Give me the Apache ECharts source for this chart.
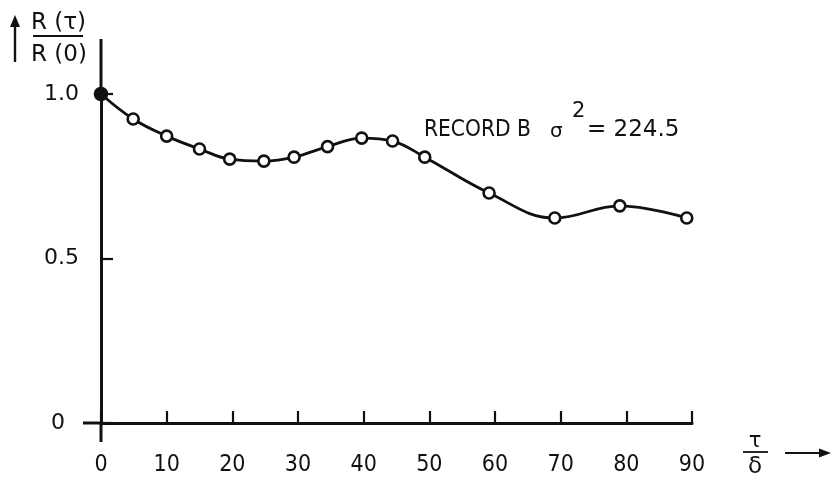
<!DOCTYPE html>
<html>
<head>
<meta charset="utf-8">
<title>R(τ)/R(0) — Record B</title>
<script src="https://cdn.jsdelivr.net/npm/echarts@6/dist/echarts.min.js"></script>
<style>
  html, body { margin: 0; padding: 0; background: #fff; }
  #chart { width: 832px; height: 480px; }
</style>
</head>
<body>
<div id="chart"></div>
<script>
// Normalised autocorrelation of record B against lag τ/δ
const lags  = [0, 4.9, 10, 15, 19.6, 24.8, 29.4, 34.5, 39.7, 44.4, 49.3, 59.1, 69.1, 79, 89.2];
const ratio = [1.0, 0.924, 0.872, 0.833, 0.802, 0.796, 0.808, 0.840, 0.866, 0.857, 0.808, 0.699, 0.623, 0.660, 0.623];
const xTicks = [0, 10, 20, 30, 40, 50, 60, 70, 80, 90];
const yTicks = [0, 0.5, 1.0];
const recordLabel = 'RECORD B';
const varianceText = '= 224.5';

const NARROW = "'DejaVu Sans Condensed', 'Liberation Sans Narrow', 'Liberation Sans', sans-serif";
const WIDE = "'DejaVu Sans', 'Liberation Sans', sans-serif";
const INK = '#111';

const chart = echarts.init(document.getElementById('chart'), null, { renderer: 'canvas' });

const points = lags.map((x, i) => {
  const item = { value: [x, ratio[i]] };
  if (i === 0) {
    item.symbolSize = 12;
    item.itemStyle = { color: INK, borderColor: INK };
  }
  return item;
});

chart.setOption({
  animation: false,
  backgroundColor: '#fff',
  grid: { left: 101, right: 140, top: 94, bottom: 57 },
  xAxis: {
    type: 'value',
    min: xTicks[0],
    max: xTicks[xTicks.length - 1],
    interval: 10,
    splitLine: { show: false },
    axisLine: { lineStyle: { color: INK, width: 3 } },
    axisTick: { inside: true, length: 12, lineStyle: { color: INK, width: 2.2 } },
    axisLabel: {
      margin: 31, color: INK, fontFamily: NARROW, fontSize: 23,
      formatter: v => xTicks.includes(v) ? String(v) : ''
    }
  },
  yAxis: {
    type: 'value',
    min: yTicks[0],
    max: yTicks[yTicks.length - 1],
    interval: 0.5,
    splitLine: { show: false },
    axisLine: { lineStyle: { color: INK, width: 3 } },
    axisTick: { inside: true, length: 12, lineStyle: { color: INK, width: 2.2 } },
    axisLabel: {
      margin: 22, color: INK, fontFamily: WIDE, fontSize: 22,
      formatter: v => v === 0 ? '{z|0}' : v.toFixed(1),
      rich: { z: { fontFamily: WIDE, fontSize: 22, color: INK, padding: [0, 14, 0, 0] } }
    }
  },
  series: [{
    type: 'line',
    data: points,
    smooth: 0.4,
    symbol: 'circle',
    symbolSize: 11,
    showAllSymbol: true,
    lineStyle: { color: INK, width: 2.8 },
    itemStyle: { color: '#fff', borderColor: INK, borderWidth: 2.6 },
    z: 3
  }]
});

// Axis extensions beyond the data range, arrows and the axis titles
const origin = chart.convertToPixel({ gridIndex: 0 }, [0, 0]);
const topPt = chart.convertToPixel({ gridIndex: 0 }, [0, yTicks[yTicks.length - 1]]);
const ox = origin[0], oy = origin[1];
const line = (x1, y1, x2, y2, w) => ({
  type: 'line', shape: { x1, y1, x2, y2 }, style: { stroke: INK, lineWidth: w || 3 }, silent: true
});
const txt = (x, y, text, size, family, align) => ({
  type: 'text', x, y, silent: true,
  style: { text, fill: INK, font: size + 'px ' + family, align: align || 'left', verticalAlign: 'middle' }
});

chart.setOption({
  graphic: [
    line(ox, topPt[1], ox, 39),
    line(ox, oy, ox, oy + 19),
    line(ox, oy, ox - 18, oy),
    // y title: R(τ)/R(0) with upward arrow
    line(15, 62, 15, 24, 2.4),
    { type: 'polygon', shape: { points: [[10, 27], [20, 27], [15, 15]] }, style: { fill: INK }, silent: true },
    txt(31, 23, 'R (τ)', 23, WIDE),
    line(33, 36, 83, 36, 1.8),
    txt(31, 55, 'R (0)', 23, WIDE),
    // x title: τ/δ with rightward arrow
    txt(755, 442, 'τ', 21, WIDE, 'center'),
    line(743, 452, 768, 452, 1.8),
    txt(755, 467, 'δ', 23, WIDE, 'center'),
    line(785, 453, 822, 453, 2.2),
    { type: 'polygon', shape: { points: [[819, 448.5], [819, 457.5], [831, 453]] }, style: { fill: INK }, silent: true },
    // annotation
    txt(424, 130, recordLabel, 22.5, NARROW),
    txt(550, 132, 'σ', 20, WIDE),
    txt(572, 112, '2', 21, WIDE),
    txt(587, 130, varianceText, 23, WIDE)
  ]
});
</script>
</body>
</html>
